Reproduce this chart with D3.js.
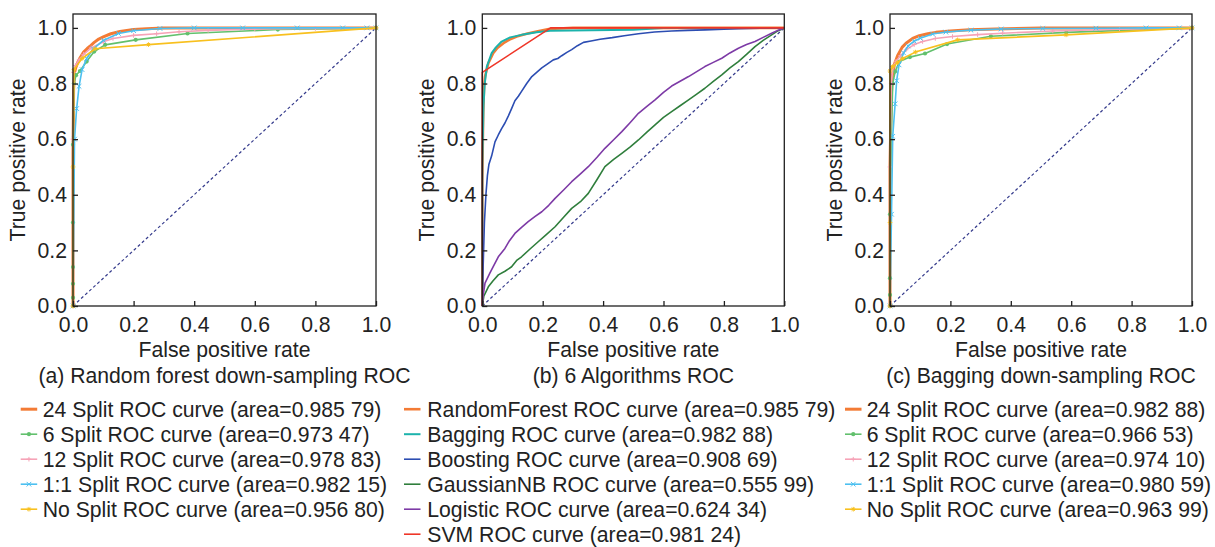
<!DOCTYPE html>
<html>
<head>
<meta charset="utf-8">
<script src="https://cdn.jsdelivr.net/npm/d3@7"></script>
<style>
  body { margin: 0; background: #fff; }
  svg text { font-family: "Liberation Sans", Arial, sans-serif; fill: #222; }
</style>
</head>
<body>
<div id="chart"></div>
<script>
var width = 1215;
var height = 547;

// ---- data: [false positive rate, true positive rate] ----
// (a) random forest down-sampling
var rf24 = [[0,0],[0,0.55],[0.002,0.78],[0.005,0.84],[0.01,0.86],[0.016,0.877],[0.023,0.892],[0.035,0.913],[0.047,0.926],[0.056,0.934],[0.07,0.948],[0.085,0.96],[0.1,0.968],[0.125,0.979],[0.155,0.987],[0.2,0.994],[0.243,0.997],[0.3,1],[1,1]];
var rf6 = [[0,0],[0,0.03],[0,0.08],[0,0.14],[0,0.3],[0,0.58],[0.003,0.8],[0.01,0.83],[0.023,0.845],[0.045,0.879],[0.07,0.915],[0.106,0.939],[0.207,0.957],[0.378,0.98],[0.676,0.994],[1,1]];
var rf12 = [[0,0],[0,0.6],[0.002,0.84],[0.008,0.865],[0.02,0.885],[0.035,0.905],[0.06,0.928],[0.1,0.95],[0.132,0.962],[0.2,0.973],[0.276,0.979],[0.35,0.986],[0.446,0.991],[0.6,0.996],[0.8,0.998],[1,1]];
var rf11 = [[0,0],[0.005,0.6],[0.012,0.71],[0.02,0.79],[0.03,0.85],[0.045,0.89],[0.067,0.925],[0.1,0.955],[0.15,0.98],[0.2,0.99],[0.287,0.998],[0.4,1],[0.56,1],[0.74,1],[0.89,1],[0.97,1],[1,1]];
var rfNo = [[0,0],[0,0.5],[0.003,0.85],[0.03,0.89],[0.073,0.925],[0.249,0.94],[1,1]];
var rfAreas = ["0.985 79", "0.973 47", "0.978 83", "0.982 15", "0.956 80"];

// (b) six algorithms
var algRF = [[0,0],[0,0.45],[0.003,0.7],[0.006,0.79],[0.009,0.825],[0.02,0.873],[0.036,0.909],[0.05,0.928],[0.07,0.945],[0.09,0.958],[0.114,0.969],[0.15,0.98],[0.18,0.987],[0.22,0.996],[0.3,1],[1,1]];
var algBag = [[0,0],[0,0.5],[0.004,0.72],[0.008,0.8],[0.015,0.861],[0.031,0.909],[0.045,0.93],[0.064,0.951],[0.092,0.966],[0.13,0.975],[0.18,0.984],[0.224,0.99],[0.5,0.993],[0.6,1],[1,1]];
var algBoost = [[0,0],[0.003,0.15],[0.007,0.3],[0.012,0.4],[0.017,0.47],[0.022,0.51],[0.031,0.54],[0.042,0.59],[0.053,0.615],[0.064,0.638],[0.075,0.658],[0.086,0.683],[0.097,0.71],[0.108,0.738],[0.12,0.755],[0.13,0.772],[0.147,0.8],[0.164,0.825],[0.18,0.84],[0.197,0.856],[0.215,0.87],[0.235,0.885],[0.25,0.89],[0.263,0.9],[0.28,0.912],[0.296,0.922],[0.315,0.936],[0.335,0.948],[0.36,0.953],[0.39,0.959],[0.43,0.965],[0.47,0.972],[0.517,0.979],[0.57,0.985],[0.627,0.989],[0.68,0.991],[0.738,0.993],[0.8,0.995],[0.848,0.997],[0.92,0.999],[1,1]];
var algGNB = [[0,0],[0.005,0.035],[0.02,0.069],[0.035,0.09],[0.053,0.112],[0.075,0.125],[0.097,0.141],[0.115,0.165],[0.13,0.177],[0.158,0.205],[0.185,0.231],[0.21,0.255],[0.241,0.285],[0.27,0.32],[0.296,0.351],[0.325,0.375],[0.351,0.405],[0.38,0.455],[0.406,0.501],[0.435,0.527],[0.462,0.549],[0.49,0.572],[0.517,0.597],[0.545,0.625],[0.572,0.651],[0.6,0.678],[0.627,0.699],[0.655,0.72],[0.683,0.741],[0.71,0.762],[0.737,0.783],[0.765,0.808],[0.793,0.831],[0.82,0.856],[0.848,0.879],[0.875,0.905],[0.903,0.933],[0.93,0.955],[0.958,0.975],[0.98,0.99],[1,1]];
var algLog = [[0,0],[0.003,0.04],[0.009,0.082],[0.025,0.118],[0.04,0.15],[0.053,0.177],[0.075,0.207],[0.09,0.235],[0.108,0.261],[0.13,0.283],[0.152,0.303],[0.175,0.322],[0.197,0.339],[0.22,0.362],[0.241,0.387],[0.27,0.418],[0.296,0.447],[0.325,0.475],[0.351,0.501],[0.38,0.535],[0.406,0.567],[0.435,0.598],[0.462,0.627],[0.49,0.66],[0.517,0.693],[0.545,0.718],[0.572,0.741],[0.6,0.768],[0.627,0.791],[0.655,0.808],[0.683,0.825],[0.71,0.843],[0.737,0.861],[0.765,0.876],[0.793,0.891],[0.82,0.91],[0.848,0.927],[0.875,0.94],[0.903,0.951],[0.93,0.966],[0.958,0.981],[0.98,0.992],[1,1]];
var algSVM = [[0,0],[0,0.84],[0.226,1],[1,1]];
var algNames = ["RandomForest", "Bagging", "Boosting", "GaussianNB", "Logistic", "SVM"];
var algAreas = ["0.985 79", "0.982 88", "0.908 69", "0.555 99", "0.624 34", "0.981 24"];

// (c) bagging down-sampling
var bag24 = [[0,0],[0,0.5],[0.004,0.75],[0.008,0.83],[0.015,0.87],[0.025,0.9],[0.04,0.93],[0.053,0.945],[0.075,0.962],[0.097,0.972],[0.125,0.979],[0.152,0.984],[0.2,0.989],[0.263,0.993],[0.35,0.996],[0.5,1],[1,1]];
var bag6 = [[0,0],[0,0.04],[0,0.1],[0,0.33],[0.004,0.6],[0.009,0.8],[0.017,0.843],[0.031,0.879],[0.066,0.895],[0.116,0.908],[0.189,0.942],[0.334,0.97],[0.584,0.984],[1,1]];
var bag12 = [[0,0],[0,0.5],[0.004,0.8],[0.01,0.86],[0.02,0.88],[0.035,0.9],[0.053,0.921],[0.08,0.94],[0.108,0.951],[0.15,0.962],[0.207,0.969],[0.29,0.976],[0.373,0.981],[0.539,0.989],[0.76,0.995],[1,1]];
var bag11 = [[0,0],[0.005,0.33],[0.009,0.61],[0.017,0.727],[0.022,0.81],[0.03,0.867],[0.045,0.91],[0.06,0.935],[0.08,0.952],[0.1,0.963],[0.141,0.978],[0.185,0.985],[0.268,0.992],[0.368,0.996],[0.506,0.998],[0.682,0.999],[0.848,1],[0.958,1],[1,1]];
var bagNo = [[0,0],[0,0.3],[0,0.845],[0.009,0.861],[0.025,0.875],[0.042,0.89],[0.084,0.913],[0.224,0.957],[0.583,0.975],[1,1]];
var bagAreas = ["0.982 88", "0.966 53", "0.974 10", "0.980 59", "0.963 99"];

var splitNames = ["24 Split", "6 Split", "12 Split", "1:1 Split", "No Split"];
var ticks = [0, 0.2, 0.4, 0.6, 0.8, 1.0];

// ---- styles ----
var splitStyle = [
  { color: "#f37b35", w: 3, mark: null },
  { color: "#62c06d", w: 1.6, mark: "dot" },
  { color: "#f6a3b7", w: 1.6, mark: "plus" },
  { color: "#4cc0f0", w: 1.6, mark: "cross" },
  { color: "#f8c01e", w: 1.6, mark: "star" }
];
var algStyle = [
  { color: "#f37b35", w: 2.6, mark: null },
  { color: "#1cb3ac", w: 2, mark: null },
  { color: "#2c4db2", w: 1.6, mark: null },
  { color: "#2f7e3c", w: 1.6, mark: null },
  { color: "#7d3aa6", w: 1.6, mark: null },
  { color: "#ef3628", w: 1.6, mark: null }
];

var svg = d3.select("#chart").append("svg")
    .attr("width", width)
    .attr("height", height);

var top_y = 14, bottom_y = 306;
var fontSize = 21.2;

function markerPath(kind, s) {
  if (kind == "plus") return "M" + (-s) + ",0H" + s + "M0," + (-s) + "V" + s;
  if (kind == "cross") return "M" + (-s) + "," + (-s) + "L" + s + "," + s + "M" + (-s) + "," + s + "L" + s + "," + (-s);
  if (kind == "star") return "M" + (-s) + ",0H" + s + "M0," + (-s) + "V" + s +
      "M" + (-s * 0.7) + "," + (-s * 0.7) + "L" + (s * 0.7) + "," + (s * 0.7) + "M" + (-s * 0.7) + "," + (s * 0.7) + "L" + (s * 0.7) + "," + (-s * 0.7);
  return "";
}

function drawMarks(g, kind, color, pts) {
  if (!kind) return;
  if (kind == "dot") {
    g.selectAll(null).data(pts).enter().append("circle")
      .attr("cx", function(d){ return d[0] }).attr("cy", function(d){ return d[1] })
      .attr("r", 2.1).attr("fill", color);
  } else {
    g.selectAll(null).data(pts).enter().append("path")
      .attr("transform", function(d){ return "translate(" + d[0] + "," + d[1] + ")" })
      .attr("d", markerPath(kind, 2.3))
      .attr("stroke", color).attr("stroke-width", 1).attr("fill", "none");
  }
}

function drawPanel(left, right, series, styles, subtitle) {
  var x = d3.scaleLinear().domain([0, 1]).range([left, right]);
  var y = d3.scaleLinear().domain([0, 1.05]).range([bottom_y, top_y]);
  var g = svg.append("g");

  // diagonal reference
  g.append("line")
    .attr("x1", x(0)).attr("y1", y(0)).attr("x2", x(1)).attr("y2", y(1))
    .attr("stroke", "#353b8c").attr("stroke-width", 1.2)
    .attr("stroke-dasharray", "3,2.5");

  var line = d3.line().x(function(d){ return x(d[0]) }).y(function(d){ return y(d[1]) });

  series.forEach(function(s, i) {
    var st = styles[i];
    g.append("path").datum(s)
      .attr("d", line)
      .attr("fill", "none")
      .attr("stroke", st.color)
      .attr("stroke-width", st.w)
      .attr("stroke-linejoin", "round");
    drawMarks(g, st.mark, st.color, s.map(function(d){ return [x(d[0]), y(d[1])] }));
  });

  // frame
  g.append("rect")
    .attr("x", left).attr("y", top_y)
    .attr("width", right - left).attr("height", bottom_y - top_y)
    .attr("fill", "none").attr("stroke", "#1f1f1f").attr("stroke-width", 1.3);

  var xAxis = g.append("g").attr("transform", "translate(0," + bottom_y + ")")
    .call(d3.axisBottom(x).tickValues(ticks).tickFormat(d3.format(".1f")).tickSize(-5).tickPadding(11));
  var yAxis = g.append("g").attr("transform", "translate(" + left + ",0)")
    .call(d3.axisLeft(y).tickValues(ticks).tickFormat(d3.format(".1f")).tickSize(-5).tickPadding(6));
  [xAxis, yAxis].forEach(function(a) {
    a.select(".domain").remove();
    a.selectAll("line").attr("stroke", "#1f1f1f").attr("stroke-width", 1.3);
    a.selectAll("text").attr("font-size", fontSize).attr("font-family", null).style("fill", "#222");
  });

  g.append("text")
    .attr("x", (left + right) / 2).attr("y", 357)
    .attr("text-anchor", "middle").attr("font-size", fontSize)
    .text("False positive rate");

  g.append("text")
    .attr("transform", "translate(" + (left - 48) + "," + ((top_y + bottom_y) / 2) + ") rotate(-90)")
    .attr("text-anchor", "middle").attr("font-size", fontSize)
    .text("True positive rate");

  g.append("text")
    .attr("x", (left + right) / 2).attr("y", 383)
    .attr("text-anchor", "middle").attr("font-size", fontSize)
    .text(subtitle);
}

function drawLegend(lineX, textX, labels, styles) {
  var g = svg.append("g");
  labels.forEach(function(lbl, i) {
    var by = 416.7 + i * 25;
    var st = styles[i];
    g.append("line")
      .attr("x1", lineX).attr("x2", lineX + 16.5)
      .attr("y1", by - 7.5).attr("y2", by - 7.5)
      .attr("stroke", st.color).attr("stroke-width", st.w);
    drawMarks(g, st.mark, st.color, [[lineX + 8.25, by - 7.5]]);
    g.append("text")
      .attr("x", textX).attr("y", by)
      .attr("font-size", fontSize)
      .text(lbl);
  });
}

drawPanel(73, 376, [rf24, rf6, rf12, rf11, rfNo], splitStyle, "(a) Random forest down-sampling ROC");
drawPanel(482.3, 784.3, [algRF, algBag, algBoost, algGNB, algLog, algSVM], algStyle, "(b) 6 Algorithms ROC");
drawPanel(890, 1192, [bag24, bag6, bag12, bag11, bagNo], splitStyle, "(c) Bagging down-sampling ROC");

drawLegend(20.7, 42.7, splitNames.map(function(n, i){ return n + " ROC curve (area=" + rfAreas[i] + ")" }), splitStyle);
drawLegend(404, 427.3, algNames.map(function(n, i){ return n + " ROC curve (area=" + algAreas[i] + ")" }), algStyle);
drawLegend(845, 866.7, splitNames.map(function(n, i){ return n + " ROC curve (area=" + bagAreas[i] + ")" }), splitStyle);
</script>
</body>
</html>
